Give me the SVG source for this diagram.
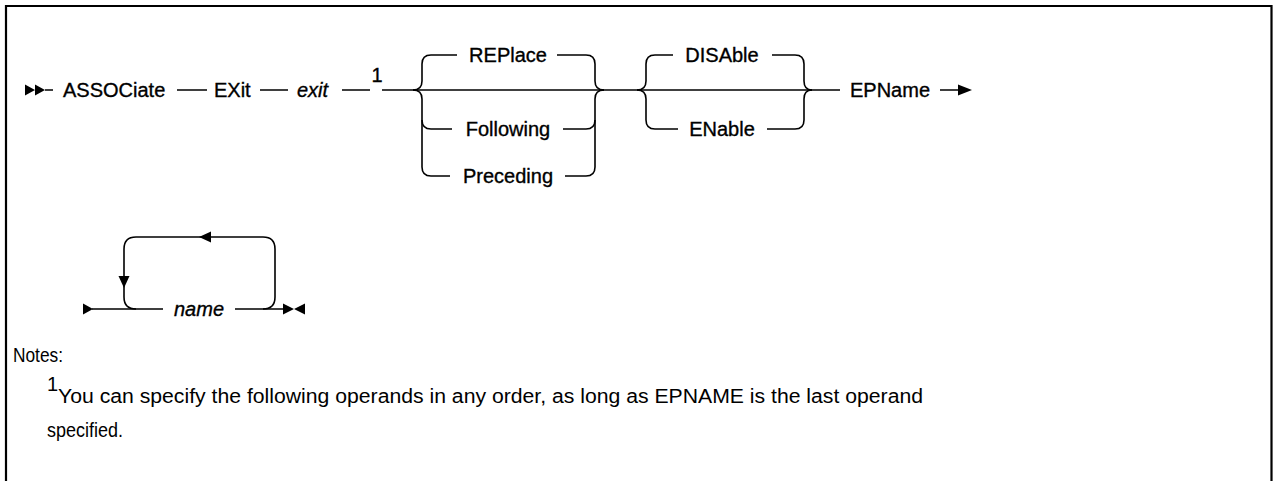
<svg xmlns="http://www.w3.org/2000/svg" width="1273" height="481" viewBox="0 0 1273 481">
<style>
.t{font-family:"Liberation Sans",Arial,sans-serif;font-size:20px;fill:#000;stroke:#000;stroke-width:0.35}
.i{font-style:italic}
.c{text-anchor:middle}
.n{font-family:"Liberation Sans",Arial,sans-serif;font-size:20px;fill:#000}
.l{fill:none;stroke:#000;stroke-width:1.6;stroke-linecap:butt}
.h{fill:#000;stroke:none}
</style>
<rect x="0" y="0" width="1273" height="481" fill="#fff"/>
<path d="M6,481 V6 H1271.5 V481" fill="none" stroke="#000" stroke-width="2.2"/>
<g id="connectors">
<path class="h" d="M25,84.5 L35,90 L25,95.5 Z M35,84.5 L45,90 L35,95.5 Z"/>
<path class="l" d="M45,90 H53 M177,90 H207 M260,90 H288 M342,90 H370 M382,90 H413"/>
<path class="l" d="M413,90 H604"/>
<path class="l" d="M413,90 Q422,90 422,81 V64 Q422,55 431,55 H457 M557,55 H586 Q595,55 595,64 V81 Q595,90 604,90"/>
<path class="l" d="M413,90 Q422,90 422,99 V167 Q422,176 431,176 H450 M565,176 H586 Q595,176 595,167 V99 Q595,90 604,90"/>
<path class="l" d="M422,120 Q422,129 431,129 H452 M563,129 H586 Q595,129 595,120"/>
<path class="l" d="M604,90 H812"/>
<path class="l" d="M637,90 Q646,90 646,81 V64 Q646,55 655,55 H673 M772,55 H795 Q804,55 804,64 V81 Q804,90 812,90"/>
<path class="l" d="M637,90 Q646,90 646,99 V120 Q646,129 655,129 H678 M767,129 H795 Q804,129 804,120 V99 Q804,90 812,90"/>
<path class="l" d="M812,90 H840 M940,90 H960"/>
<path class="h" d="M958,84.5 L972,90 L958,95.5 Z"/>
<path class="h" d="M83,303.5 L93,309 L83,314.5 Z"/>
<path class="l" d="M92,309 H163 M235,309 H284"/>
<path class="h" d="M283,303.5 L294,309 L283,314.5 Z M305,303.5 L294,309 L305,314.5 Z"/>
<path class="l" d="M136,309 Q124,309 124,297 V249 Q124,237 136,237 H263 Q275,237 275,249 V297 Q275,309 263,309"/>
<path class="h" d="M199,237 L211,231.5 L211,242.5 Z"/>
<path class="h" d="M124,288 L118.5,276 L129.5,276 Z"/>
</g>
<g id="n-associate"><text class="t" x="63" y="97">ASSOCiate</text></g>
<g id="n-exit-kw"><text class="t" x="214" y="97">EXit</text></g>
<g id="n-exit-var"><text class="t i" x="297" y="97">exit</text></g>
<g id="n-note-ref"><text class="t c" x="377" y="82" font-size="19">1</text></g>
<g id="n-replace"><text class="t c" x="508" y="62">REPlace</text></g>
<g id="n-following"><text class="t c" x="508" y="136">Following</text></g>
<g id="n-preceding"><text class="t c" x="508" y="183">Preceding</text></g>
<g id="n-disable"><text class="t c" x="722" y="62">DISAble</text></g>
<g id="n-enable"><text class="t c" x="722" y="136">ENable</text></g>
<g id="n-epname"><text class="t" x="850" y="97">EPName</text></g>
<g id="n-name"><text class="t i c" x="199" y="316">name</text></g>
<g id="notes">
<text class="n" x="13" y="362" textLength="50" lengthAdjust="spacingAndGlyphs">Notes:</text>
<text class="n" x="47" y="391" font-size="13">1</text>
<text class="n" x="58" y="403" textLength="865" lengthAdjust="spacingAndGlyphs">You can specify the following operands in any order, as long as EPNAME is the last operand</text>
<text class="n" x="47" y="437" textLength="76" lengthAdjust="spacingAndGlyphs">specified.</text>
</g>
</svg>
